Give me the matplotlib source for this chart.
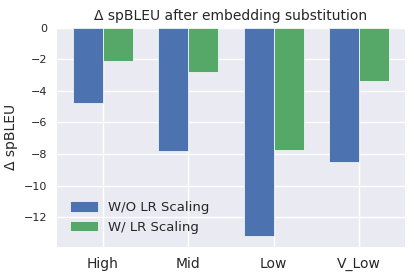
import numpy as np
import matplotlib
matplotlib.use("Agg")
import matplotlib.pyplot as plt

plt.style.use("seaborn-v0_8")
plt.rcParams["font.family"] = ["DejaVu Sans"]

# %% Daten
categories = ["High", "Mid", "Low", "V_Low"]
wo_scaling = [-4.77, -7.8, -13.23, -8.52]
w_scaling = [-2.08, -2.78, -7.76, -3.35]

# %% Plot
x = np.arange(len(categories))
width = 0.35

fig, ax = plt.subplots(figsize=(4.15, 2.77), dpi=100)
ax.bar(x - width / 2, wo_scaling, width, label="W/O LR Scaling",
       color="#4C72B0", edgecolor="white", linewidth=0.5)
ax.bar(x + width / 2, w_scaling, width, label="W/ LR Scaling",
       color="#55A868", edgecolor="white", linewidth=0.5)

ax.set_xticks(x)
ax.set_xticklabels(categories, fontsize=10)
ax.tick_params(axis="x", pad=7)
ax.set_yticks([0, -2, -4, -6, -8, -10, -12])
ax.tick_params(axis="y", labelsize=8)
ax.set_ylabel("Δ spBLEU", fontsize=10)
ax.set_title("Δ spBLEU after embedding substitution", fontsize=10)
ax.legend(loc="lower left", fontsize=9.5, handlelength=2.1,
          handleheight=0.85, labelspacing=0.5, borderaxespad=0.6)

fig.subplots_adjust(left=0.137, right=0.976, top=0.899, bottom=0.109)
fig.savefig("out.png", dpi=100)
